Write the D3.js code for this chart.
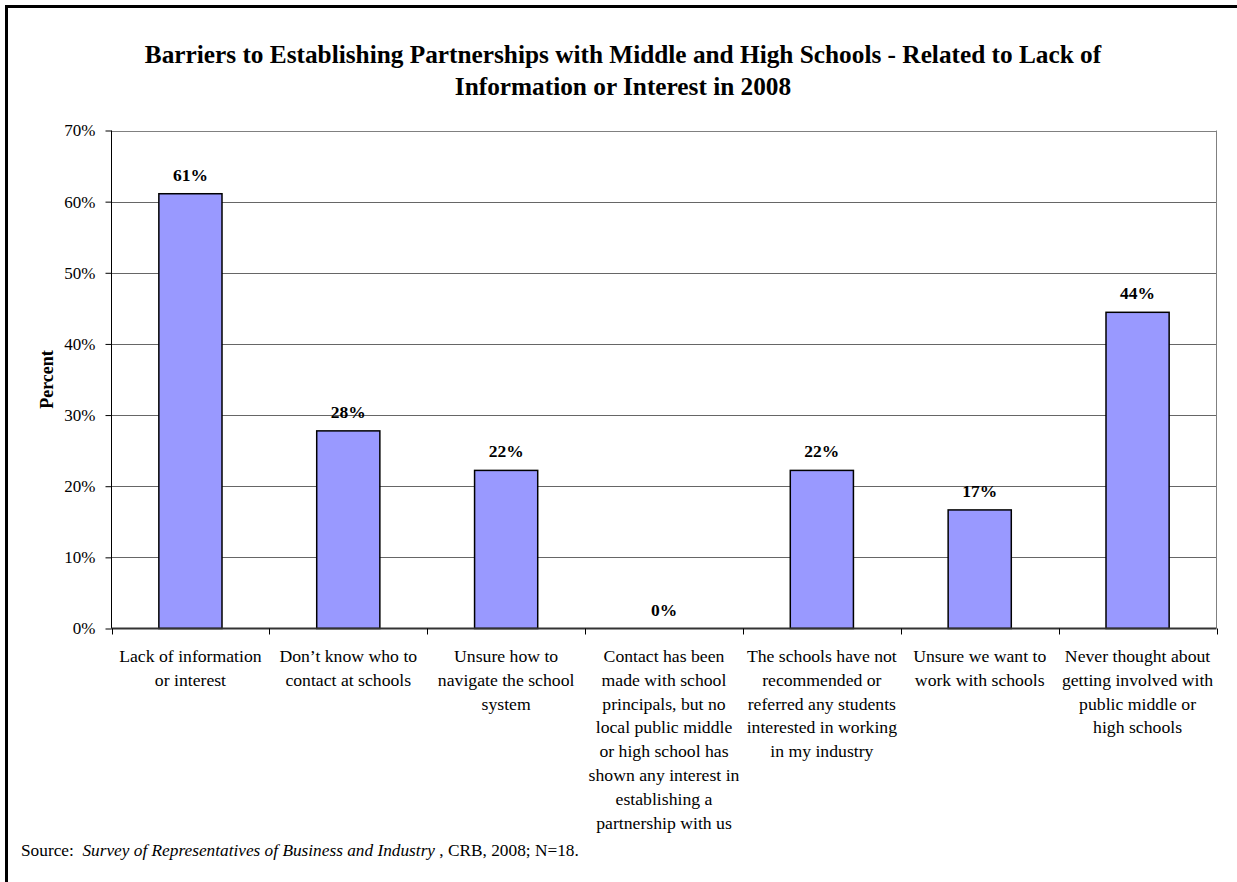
<!DOCTYPE html>
<html><head><meta charset="utf-8">
<script src="https://cdn.jsdelivr.net/npm/d3@7"></script>
<style>body{margin:0;background:#fff}</style>
</head><body><svg id="c" width="1237" height="882"></svg>
<script>
const categories = [
  "Lack of information\nor interest",
  "Don\u2019t know who to\ncontact at schools",
  "Unsure how to\nnavigate the school\nsystem",
  "Contact has been\nmade with school\nprincipals, but no\nlocal public middle\nor high school has\nshown any interest in\nestablishing a\npartnership with us",
  "The schools have not\nrecommended or\nreferred any students\ninterested in working\nin my industry",
  "Unsure we want to\nwork with schools",
  "Never thought about\ngetting involved with\npublic middle or\nhigh schools"
];
const values = [11/18, 5/18, 4/18, 0, 4/18, 3/18, 8/18];
const yTicks = [0, 0.1, 0.2, 0.3, 0.4, 0.5, 0.6, 0.7];
const titleLines = ["Barriers to Establishing Partnerships with Middle and High Schools - Related to Lack of", "Information or Interest in 2008"];
const FONT = "Liberation Serif, Times New Roman, serif";

const svg = d3.select("#c").attr("font-family", FONT);
const L = 111.5, R = 1216.5, T = 130.5, B = 628.5;
const x = d3.scaleBand().domain(d3.range(categories.length)).range([L, R]).paddingInner(0.6).paddingOuter(0.3);
const y = d3.scaleLinear().domain([0, 0.7]).range([B, T]);

// outer border
svg.append("line").attr("x1",6.5).attr("x2",6.5).attr("y1",5).attr("y2",882).attr("stroke","#000").attr("stroke-width",3);
svg.append("line").attr("x1",5).attr("x2",1237).attr("y1",6.5).attr("y2",6.5).attr("stroke","#000").attr("stroke-width",3);

// title
const tt = svg.append("text").attr("text-anchor","middle").attr("font-weight","bold").attr("font-size",25.3);
titleLines.forEach((t,i)=>tt.append("tspan").attr("x",623).attr("y",63+i*32).text(t));

// gridlines
svg.append("g").selectAll("line").data(yTicks.filter(d=>d>0)).join("line")
  .attr("x1",L).attr("x2",R).attr("y1",d=>Math.round(y(d))+0.5).attr("y2",d=>Math.round(y(d))+0.5)
  .attr("stroke",d=>d===0.7?"#808080":"#666").attr("stroke-width",1);
// right plot border
svg.append("line").attr("x1",R).attr("x2",R).attr("y1",T).attr("y2",B).attr("stroke","#808080");

// bars
svg.append("g").selectAll("rect").data(values).join("rect")
  .attr("x",(d,i)=>x(i)).attr("width",x.bandwidth())
  .attr("y",d=>y(d)).attr("height",d=>B-y(d))
  .attr("fill","#9999ff").attr("stroke","#000").attr("stroke-width",1.5);

// value labels
svg.append("g").selectAll("text").data(values).join("text")
  .attr("x",(d,i)=>x(i)+x.bandwidth()/2).attr("y",d=>y(d)-13)
  .attr("text-anchor","middle").attr("font-weight","bold").attr("font-size",17.5)
  .text(d=>d3.format(".0%")(d));

// y axis
const ya = svg.append("g").attr("transform",`translate(${L},0)`)
  .call(d3.axisLeft(y).tickValues(yTicks).tickFormat(d3.format(".0%")).tickSize(6).tickPadding(10));
ya.attr("font-family", null).attr("font-size", null);
ya.select(".domain").attr("stroke","#000").attr("d",`M0,${T}V${B}`);
ya.selectAll("text").attr("font-size",17).attr("fill","#000");
ya.selectAll("line").attr("stroke","#000");

// x axis
svg.append("line").attr("x1",L).attr("x2",R).attr("y1",B).attr("y2",B).attr("stroke","#333").attr("stroke-width",2);
const bounds = d3.range(categories.length+1).map(i=>L + i*(R-L)/categories.length);
svg.append("g").selectAll("line").data(bounds).join("line")
  .attr("x1",d=>Math.round(d)+0.5).attr("x2",d=>Math.round(d)+0.5).attr("y1",B).attr("y2",B+6).attr("stroke","#000");

// category labels
const cl = svg.append("g").selectAll("text").data(categories).join("text")
  .attr("text-anchor","middle").attr("font-size",17.7).attr("fill","#000");
cl.each(function(d,i){
  const cx = x(i)+x.bandwidth()/2;
  d.split("\n").forEach((s,j)=>d3.select(this).append("tspan").attr("x",cx).attr("y",662+j*23.8).text(s));
});

// y title
svg.append("text").attr("transform",`translate(53,${(T+B)/2}) rotate(-90)`).attr("text-anchor","middle")
  .attr("font-weight","bold").attr("font-size",18).text("Percent");

// source
const src = svg.append("text").attr("x",21).attr("y",856).attr("font-size",17.3);
src.append("tspan").text("Source:\u00a0\u00a0");
src.append("tspan").attr("font-style","italic").text("Survey of Representatives of Business and Industry");
src.append("tspan").text(" , CRB, 2008; N=18.");
</script></body></html>
